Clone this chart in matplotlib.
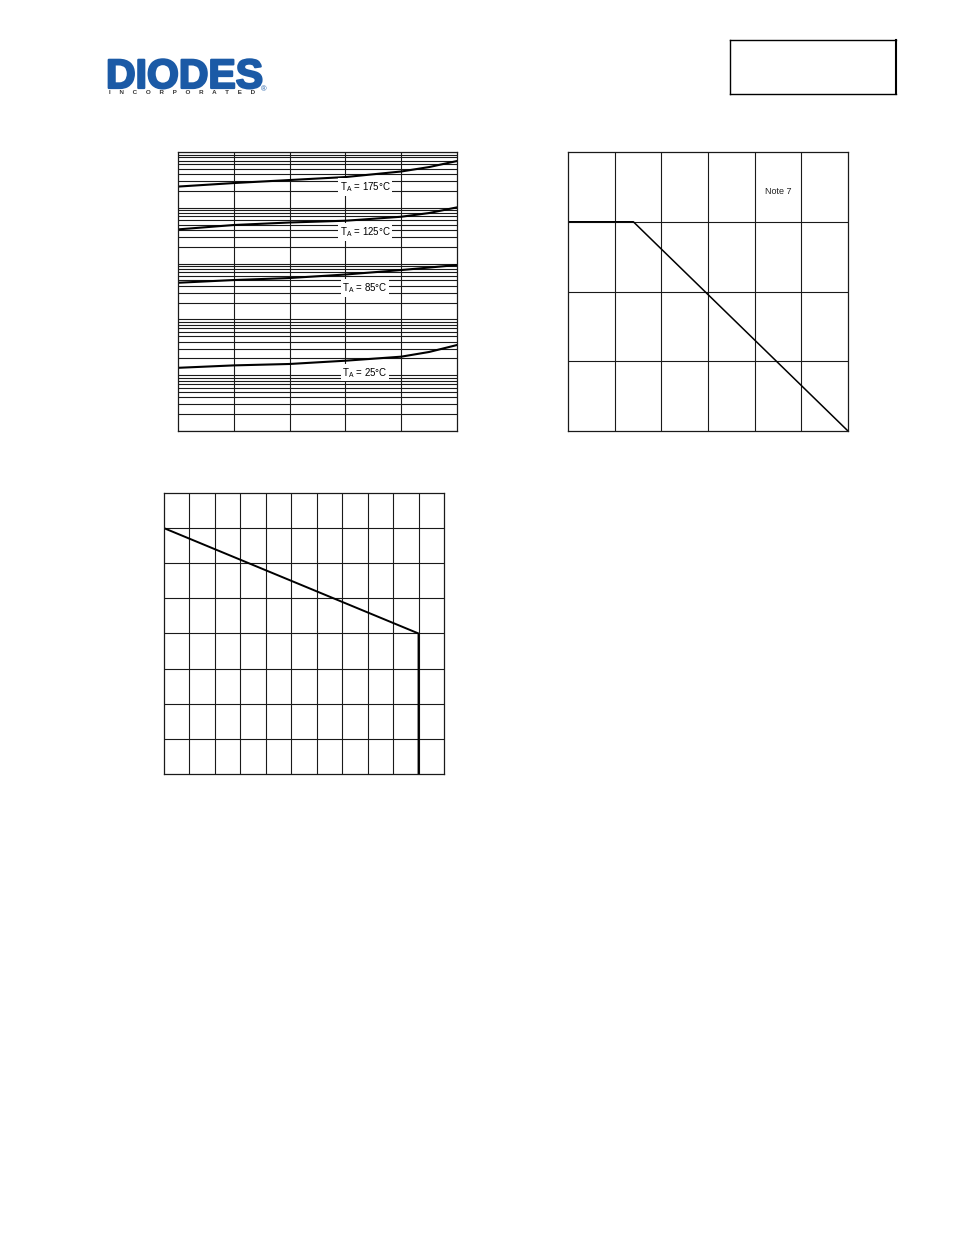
import numpy as np
import matplotlib.pyplot as plt
import matplotlib.patheffects as pe
from matplotlib.ticker import FixedLocator, LogLocator, NullFormatter

plt.rcParams['font.family'] = ['Liberation Sans', 'DejaVu Sans']

# chart 1: reverse characteristics (log y), one curve per temperature
vr = [0.2, 10, 20, 30, 40, 45, 50]
ir_175 = [24.1, 27.8, 31.5, 35.6, 44.8, 53.8, 69.0]
ir_125 = [4.12, 4.92, 5.46, 5.87, 6.92, 8.07, 10.2]
ir_85 = [0.455, 0.508, 0.552, 0.638, 0.767, 0.851, 0.944]
ir_25 = [0.0136, 0.0150, 0.0159, 0.0182, 0.0215, 0.0261, 0.0348]
temp_labels = [r'T$\mathregular{_A}$ = 175°C', r'T$\mathregular{_A}$ = 125°C',
               r'T$\mathregular{_A}$ = 85°C', r'T$\mathregular{_A}$ = 25°C']
label_y = [23.6, 3.68, 0.366, 0.0111]
label_x = 33.5

# chart 2: power derating
ta = [0, 35, 150]
pd = [0.75, 0.75, 0.0]

# chart 3: line with vertical drop
x3 = [0, 100, 100]
y3 = [7, 4, 0]

grid_kw = dict(color='#1a1a1a', linewidth=0.8)

fig = plt.figure(figsize=(9.54, 12.35), dpi=100)


def bare(ax):
    ax.tick_params(which='both', length=0, labelbottom=False, labelleft=False)
    for s in ax.spines.values():
        s.set_linewidth(0.9)
        s.set_color('#1a1a1a')
    ax.set_axisbelow(True)


# --- chart 1
ax1 = fig.add_axes([0.1866, 0.651, 0.2925, 0.2259])
ax1.set_yscale('log')
ax1.set_xlim(0, 50)
ax1.set_ylim(1e-3, 1e2)
ax1.xaxis.set_major_locator(FixedLocator([10, 20, 30, 40]))
ax1.yaxis.set_major_locator(LogLocator(base=10, numticks=10))
ax1.yaxis.set_minor_locator(LogLocator(base=10, subs=np.arange(2, 10), numticks=20))
ax1.yaxis.set_minor_formatter(NullFormatter())
ax1.grid(True, which='major', axis='both', **grid_kw)
ax1.grid(True, which='minor', axis='y', **grid_kw)
for ir in (ir_175, ir_125, ir_85, ir_25):
    ax1.plot(vr, ir, color='black', linewidth=1.5, zorder=2)
for txt, yv in zip(temp_labels, label_y):
    ax1.text(label_x, yv, txt, fontsize=7, ha='center', va='center', zorder=4,
             bbox=dict(facecolor='white', edgecolor='none', pad=1.2))
bare(ax1)

# --- chart 2
ax2 = fig.add_axes([0.5954, 0.651, 0.2935, 0.2259])
ax2.set_xlim(0, 150)
ax2.set_ylim(0, 1.0)
ax2.xaxis.set_major_locator(FixedLocator([25, 50, 75, 100, 125]))
ax2.yaxis.set_major_locator(FixedLocator([0.25, 0.5, 0.75]))
ax2.grid(True, **grid_kw)
ax2.plot(ta, pd, color='black', linewidth=1.1, zorder=2)
ax2.text(112.5, 0.86, 'Note 7', fontsize=6.5, ha='center', va='center', color='#222222')
bare(ax2)

# --- chart 3
ax3 = fig.add_axes([0.1719, 0.3733, 0.2935, 0.2275])
ax3.set_xlim(0, 110)
ax3.set_ylim(0, 8)
ax3.xaxis.set_major_locator(FixedLocator(np.arange(10, 110, 10)))
ax3.yaxis.set_major_locator(FixedLocator(np.arange(1, 8)))
ax3.grid(True, **grid_kw)
ax3.plot(x3, y3, color='black', linewidth=1.4, zorder=2)
bare(ax3)

# --- header box (top right)
axb = fig.add_axes([0.7652, 0.9239, 0.174, 0.0437])
axb.set_xticks([])
axb.set_yticks([])
for s in axb.spines.values():
    s.set_linewidth(1.0)
axb.spines['right'].set_linewidth(1.5)

# --- logo
logo_blue = '#1b5aa6'
fig.text(106 / 954, 1 - 88 / 1235, 'DIODES', fontsize=29.5, fontweight='bold',
         color=logo_blue, ha='left', va='baseline',
         path_effects=[pe.withStroke(linewidth=1.6, foreground=logo_blue)])
fig.text(182 / 954, 1 - 94.5 / 1235, '     '.join('INCORPORATED'), fontsize=4.5,
         fontweight='bold', color='#333333', ha='center', va='baseline')
fig.text(264 / 954, 1 - 91 / 1235, '®', fontsize=5.5, color=logo_blue,
         ha='center', va='baseline')

fig.savefig('out.png', dpi=100)
